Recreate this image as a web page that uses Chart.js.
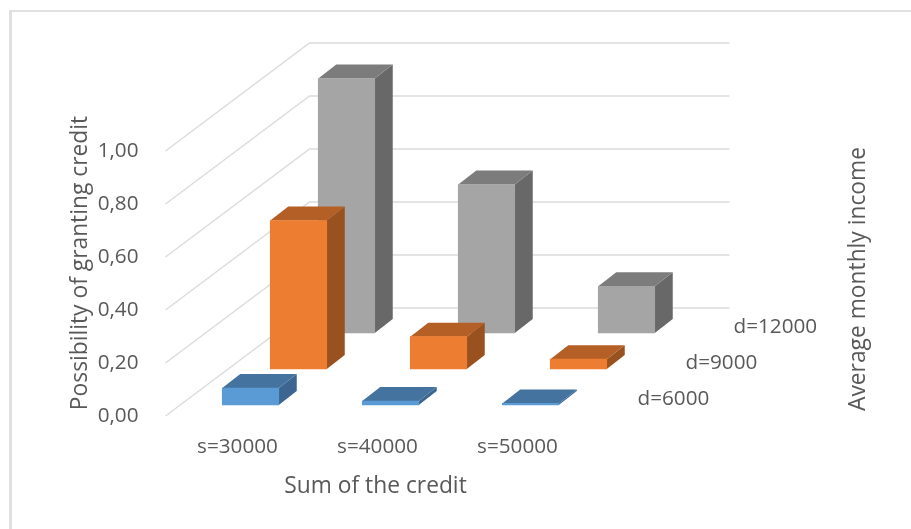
<!DOCTYPE html>
<html>
<head>
<meta charset="utf-8">
<title>Possibility of granting credit</title>
<script src="https://cdn.jsdelivr.net/npm/chart.js@4"></script>
<style>
    html, body { margin: 0; background: #fff; }
    canvas { display: block; }
</style>
</head>
<body>
<canvas id="credit" width="911" height="529"></canvas>
<script>
var sums = ['s=30000', 's=40000', 's=50000'];
var incomes = ['d=6000', 'd=9000', 'd=12000'];
var d6000 = [0.064, 0.015, 0.006];
var d9000 = [0.56, 0.122, 0.037];
var d12000 = [0.96, 0.56, 0.176];
var yTickLabels = ['0,00', '0,20', '0,40', '0,60', '0,80', '1,00'];

var frontColors = ['#5b9bd5', '#ed7d31', '#a5a5a5'];
var topColors = ['#44739f', '#b45f25', '#7c7c7c'];
var sideColors = ['#3c6690', '#9a5120', '#686868'];

var textColor = '#595959';
var gridColor = '#dcdcdc';
var font = { family: '"Open Sans"', size: 20.7 };
var titleFont = { family: '"Open Sans"', size: 22.8 };

// oblique projection of the depth axis
var depthX = 48, depthY = 36;
var slotX = 15, slotY = 11;
var barDepthX = 18, barDepthY = 14;

function drawText(ctx, text, f, x, y, angle, align) {
    ctx.save();
    ctx.translate(x, y);
    ctx.rotate(angle);
    ctx.font = f.size + 'px ' + f.family;
    ctx.fillStyle = textColor;
    ctx.textAlign = align || 'center';
    ctx.textBaseline = 'middle';
    ctx.fillText(text, 0, 0);
    ctx.restore();
}

function poly(ctx, color, pts) {
    ctx.fillStyle = color;
    ctx.beginPath();
    ctx.moveTo(pts[0][0], pts[0][1]);
    for (var i = 1; i < pts.length; i++) ctx.lineTo(pts[i][0], pts[i][1]);
    ctx.closePath();
    ctx.fill();
}

var threeD = {
    id: 'threeD',
    beforeDraw: function (chart) {
        // chart frame
        var ctx = chart.ctx;
        ctx.fillStyle = '#e0e0e0';
        ctx.fillRect(9, 10, 902, 2);
        ctx.fillRect(9, 10, 3, 519);
    },
    beforeDatasetsDraw: function (chart) {
        // floor and wall lines, running back from the front edge
        var ctx = chart.ctx, y = chart.scales.y, area = chart.chartArea;
        var backX = depthX * incomes.length, backY = depthY * incomes.length;
        ctx.strokeStyle = gridColor;
        ctx.lineWidth = 1.5;
        y.ticks.forEach(function (t) {
            var py = y.getPixelForValue(t.value);
            ctx.beginPath();
            ctx.moveTo(area.left, py);
            ctx.lineTo(area.left + backX, py - backY);
            ctx.lineTo(area.right + backX, py - backY);
            ctx.stroke();
        });
    },
    beforeDatasetDraw: function (chart, args) {
        var ctx = chart.ctx, i = args.index;
        ctx.save();
        ctx.translate(slotX + depthX * i, -slotY - depthY * i);
        // top and side faces, the front face is the bar element itself
        args.meta.data.forEach(function (bar) {
            var l = bar.x - bar.width / 2, r = bar.x + bar.width / 2;
            poly(ctx, sideColors[i], [[r, bar.y], [r + barDepthX, bar.y - barDepthY],
                [r + barDepthX, bar.base - barDepthY], [r, bar.base]]);
            poly(ctx, topColors[i], [[l, bar.y], [l + barDepthX, bar.y - barDepthY],
                [r + barDepthX, bar.y - barDepthY], [r, bar.y]]);
        });
    },
    afterDatasetDraw: function (chart) {
        chart.ctx.restore();
    },
    afterDraw: function (chart) {
        var ctx = chart.ctx, area = chart.chartArea;
        incomes.forEach(function (label, i) {
            drawText(ctx, label, font, area.right + 52 + depthX * i, area.bottom - 16.5 - depthY * i, 0, 'left');
        });
        drawText(ctx, 'Possibility of granting credit', titleFont, 81, 263, -Math.PI / 2);
        drawText(ctx, 'Average monthly income', titleFont, 859, 279, -Math.PI / 2);
    }
};

new Chart(document.getElementById('credit').getContext('2d'), {
    type: 'bar',
    data: {
        labels: sums,
        datasets: [d6000, d9000, d12000].map(function (values, i) {
            return {
                label: incomes[i],
                data: values,
                backgroundColor: frontColors[i],
                barThickness: 56.5,
                clip: false
            };
        })
    },
    options: {
        responsive: false,
        animation: false,
        layout: { padding: { left: 0, right: 325.5, top: 151, bottom: 0 } },
        plugins: { legend: { display: false }, tooltip: { enabled: false } },
        scales: {
            x: {
                stacked: true,
                grid: { display: false },
                border: { display: false },
                ticks: { color: textColor, font: font, padding: 11, labelOffset: 2, maxRotation: 0 },
                title: {
                    display: true,
                    text: 'Sum of the credit',
                    color: textColor,
                    font: titleFont,
                    padding: { top: 0, bottom: 29 }
                },
                afterFit: function (scale) { scale.height = 113; }
            },
            y: {
                min: 0,
                max: 1,
                grid: { display: false },
                border: { display: false },
                ticks: {
                    stepSize: 0.2,
                    color: textColor,
                    font: font,
                    padding: 19,
                    callback: function (value, i) { return yTickLabels[i]; }
                },
                afterFit: function (scale) { scale.width = 165.5; }
            }
        }
    },
    plugins: [threeD]
});
</script>
</body>
</html>
